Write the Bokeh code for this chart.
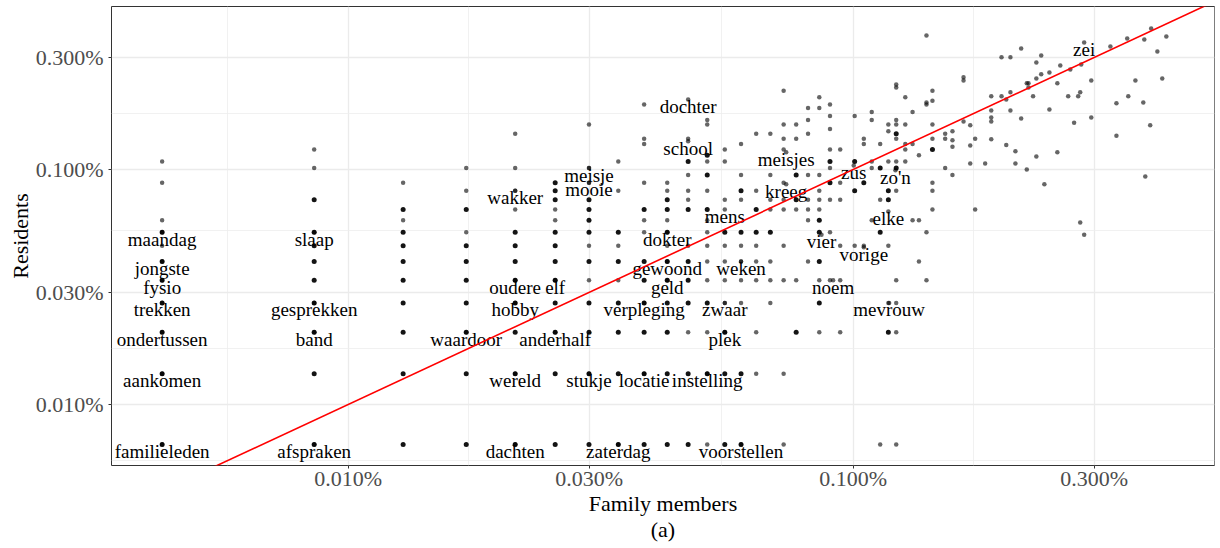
import math
from bokeh.plotting import figure
from bokeh.models import FixedTicker, NumeralTickFormatter, ColumnDataSource, Range1d
from bokeh.core.properties import value
from bokeh.embed import file_html
from bokeh.resources import INLINE

# estimated corpus sizes (tokens) used to turn word counts into proportions
N_FAM = 23350
N_RES = 14790

# single words (grey points): family-member count -> list of resident counts
grey_fam = [1, 2, 3, 4, 5, 6, 7, 8, 9, 10, 11, 12, 13, 14, 15, 16, 17, 18, 19, 20, 21, 22,
            23.5, 24.5, 25.4, 26.4, 27.4, 28.4, 29.6, 30.6, 31.5, 32.6, 33.5, 35.5, 36.7, 38.6,
            39.8, 40.7, 42.6, 43.8, 45.9, 46.9, 47.8, 48.9, 50.2, 51.5, 51.9, 53.0, 53.8, 55.0,
            55.8, 57.1, 59.2, 60.0, 62.2, 62.8, 63.9, 65.1, 65.7, 66.0, 66.9, 69.1, 75.4, 77.5,
            81.4, 81.8, 84.5, 87.6, 88.0, 88.4, 90.4, 90.8, 93.4, 95.5, 97.3]
grey_res = [
    [16, 13, 9, 7], [18, 15], [13, 9], [15, 12, 8], [21, 15, 12, 10], [10, 9],
    [23, 15, 13, 7, 5], [16, 12, 7, 5], [28, 20, 19, 13, 9, 8], [13, 12, 9, 7],
    [20, 14, 12, 11, 7, 3], [24, 23, 16, 12, 9, 8, 7, 6, 5, 3, 1], [18, 16, 11, 7, 6, 5, 4],
    [19, 14, 11, 7, 6, 5, 4], [21, 12, 7, 6, 5, 3, 2], [21, 14, 11, 10, 6, 5, 4],
    [32, 23, 20, 18, 13, 11, 10, 7, 5, 2, 1], [23, 20, 10, 5], [27, 24, 21, 14, 11, 10, 9, 6],
    [30, 27, 14, 12, 11, 10, 5, 3], [28, 25, 22, 18, 15, 11, 8, 5], [18, 13, 11, 7, 5, 3],
    [25, 7], [20, 19, 7], [26, 24, 16, 15, 9], [19, 11, 1], [23, 21.5, 16, 7, 4],
    [34, 33, 24, 23, 20, 16, 12, 5, 4, 3, 1], [30, 23, 19, 18, 16], [26, 19, 9], [17, 9, 6],
    [55, 28.5, 28, 8, 5], [32, 29, 23, 20, 13, 12, 10], [21, 20, 15], [21.5, 19.7, 18.5, 14],
    [36.5, 35.4, 23.7], [22.8, 18.7, 15.7], [20, 10], [15.7], [30.3, 26.4, 24.6, 23.7, 19.9],
    [44.4, 30.3], [29.4, 18.8], [44.4, 31.5, 26.4], [17.7, 15.7], [48.4, 24.4], [34.4, 14.8],
    [34.4, 33.0], [30.3], [42.2, 36.1, 16.8], [45.2, 37.6], [12.8], [38.3, 26.6], [34.4, 17.5],
    [41.0], [30.3], [39.4], [23.4], [30.3], [31.5, 8.8], [41.4], [7.8], [35.4, 24.6], [49.4],
    [28.3, 20.6], [53.4], [30.3], [35.4], [28.5], [52.9], [13.8], [22.8], [58.9], [47.0],
    [36.1], [54.5],
]

# overlapping words (dark points)
dark_fam = [1, 2, 3, 4, 5, 6, 7, 8, 9, 10, 11, 12, 13, 14, 15, 16, 18, 20, 21, 23.5, 24.5,
            26.4, 27.4, 28.4, 33.5]
dark_res = [
    [8, 6, 5, 4, 3, 2, 1], [11, 8, 7, 6, 5, 4, 3, 2, 1], [10, 8, 7, 6, 5, 4, 3, 2, 1],
    [10, 7, 6, 5, 4, 3, 2, 1], [8, 7, 6, 5, 4, 3, 2, 1], [13, 12, 11, 8, 7, 6, 5, 4, 3, 2, 1],
    [11, 10, 9, 8, 6, 4, 3, 2, 1], [8, 6, 4, 3, 2, 1], [10, 6, 5, 4, 3, 2, 1],
    [11, 10, 8, 6, 5, 4, 3, 2, 1], [16, 10, 6, 5, 4, 2, 1], [17, 14, 10, 4, 2], [8, 3, 2, 1],
    [12, 8, 2, 1], [10, 8], [8], [14, 11, 3], [9, 8, 6, 4], [16, 13], [16, 12], [13], [15, 8],
    [12, 11, 3], [21, 15], [18],
]

label_word = ["maandag", "jongste", "fysio", "trekken", "ondertussen", "aankomen", "familieleden",
              "slaap", "gesprekken", "band", "afspraken", "wakker", "waardoor", "oudere", "elf",
              "hobby", "anderhalf", "wereld", "dachten", "meisje", "mooie", "stukje", "zaterdag",
              "verpleging", "locatie", "dokter", "gewoond", "geld", "dochter", "school",
              "instelling", "mens", "zwaar", "plek", "weken", "voorstellen", "meisjes", "kreeg",
              "vier", "vorige", "noem", "mevrouw", "zus", "zo'n", "elke", "zei"]
label_fam = [1, 1, 1, 1, 1, 1, 1, 2, 2, 2, 2, 5, 4, 5, 6, 5, 6, 5, 5, 7, 7, 7, 8, 9, 9, 10, 10,
             10, 11, 11, 12, 13, 13, 13, 14, 14, 17.2, 17.2, 20.2, 24.5, 21.3, 27.5, 23.4, 28.3,
             27.4, 66.9]
label_res = [8, 6, 5, 4, 3, 2, 1, 8, 4, 3, 1, 12, 3, 5, 5, 4, 3, 2, 1, 15, 13, 2, 1, 4, 2, 8, 6,
             5, 29.4, 19.5, 2, 10, 4, 3, 6, 1, 17.5, 12.8, 7.8, 6.9, 5, 4, 15.4, 14.7, 9.8, 51.4]

tick_values = [0.0001, 0.0003, 0.001, 0.003]
x_limits = (3.40e-5, 5.19e-3)
y_limits = (5.50e-5, 4.94e-3)


def flatten(fams, ress):
    xs, ys = [], []
    for k, ms in zip(fams, ress):
        for m in ms:
            xs.append(k / N_FAM)
            ys.append(m / N_RES)
    return xs, ys


def minor_breaks(ticks):
    lg = [math.log10(t) for t in ticks]
    ext = [lg[0] - (lg[1] - lg[0])] + lg + [lg[-1] + (lg[-1] - lg[-2])]
    return [10 ** ((a + b) / 2) for a, b in zip(ext[:-1], ext[1:])]


gx, gy = flatten(grey_fam, grey_res)
dx, dy = flatten(dark_fam, dark_res)
lab = ColumnDataSource(dict(x=[k / N_FAM for k in label_fam],
                            y=[m / N_RES for m in label_res], t=label_word))

p = figure(width=1220, height=548, x_axis_type="log", y_axis_type="log",
           x_range=Range1d(*x_limits), y_range=Range1d(*y_limits),
           output_backend="svg", toolbar_location=None,
           min_border_left=111, min_border_right=6, min_border_top=6, min_border_bottom=83,
           x_axis_label="Family members\n(a)", y_axis_label="Residents")
p.background_fill_color = "white"
p.border_fill_color = "white"
p.outline_line_color = "#333333"
p.outline_line_width = 1

ticker = FixedTicker(ticks=tick_values, minor_ticks=minor_breaks(tick_values))
for ax in (p.xaxis[0], p.yaxis[0]):
    ax.ticker = ticker
    ax.formatter = NumeralTickFormatter(format="0.000%")
    ax.axis_line_color = None
    ax.major_tick_line_color = "#333333"
    ax.major_tick_out = 3
    ax.major_tick_in = 0
    ax.minor_tick_line_color = None
    ax.major_label_text_font = "Liberation Serif"
    ax.major_label_text_font_size = "22px"
    ax.major_label_text_color = "#4D4D4D"
    ax.axis_label_text_font = "Liberation Serif"
    ax.axis_label_text_font_size = "22px"
    ax.axis_label_text_font_style = "normal"
    ax.axis_label_text_color = "black"
p.xaxis[0].axis_label_text_line_height = 1.05
p.xaxis[0].major_label_standoff = -4
p.xaxis[0].axis_label_standoff = -3
p.yaxis[0].major_label_standoff = 4
p.yaxis[0].axis_label_standoff = 0

for g in (p.xgrid[0], p.ygrid[0]):
    g.ticker = ticker
    g.grid_line_color = "#EBEBEB"
    g.grid_line_width = 1.3
    g.minor_grid_line_color = "#EEEEEE"
    g.minor_grid_line_width = 0.8

p.text(x="x", y="y", text="t", source=lab, text_font=value("Liberation Serif"),
       text_font_size="19px", text_align="center", text_baseline="middle", y_offset=7,
       text_color="black")
p.scatter(gx, gy, size=4.5, fill_color="black", fill_alpha=0.6, line_color=None)
p.scatter(lab.data["x"], lab.data["y"], size=4.5, fill_color="black", fill_alpha=0.6,
          line_color=None)
p.scatter(dx, dy, size=5, fill_color="black", fill_alpha=0.92, line_color=None)

p.line([x_limits[0], x_limits[1]], [x_limits[0], x_limits[1]], line_color="red", line_width=1.6)

open("out.html", "w").write(file_html(p, INLINE))
